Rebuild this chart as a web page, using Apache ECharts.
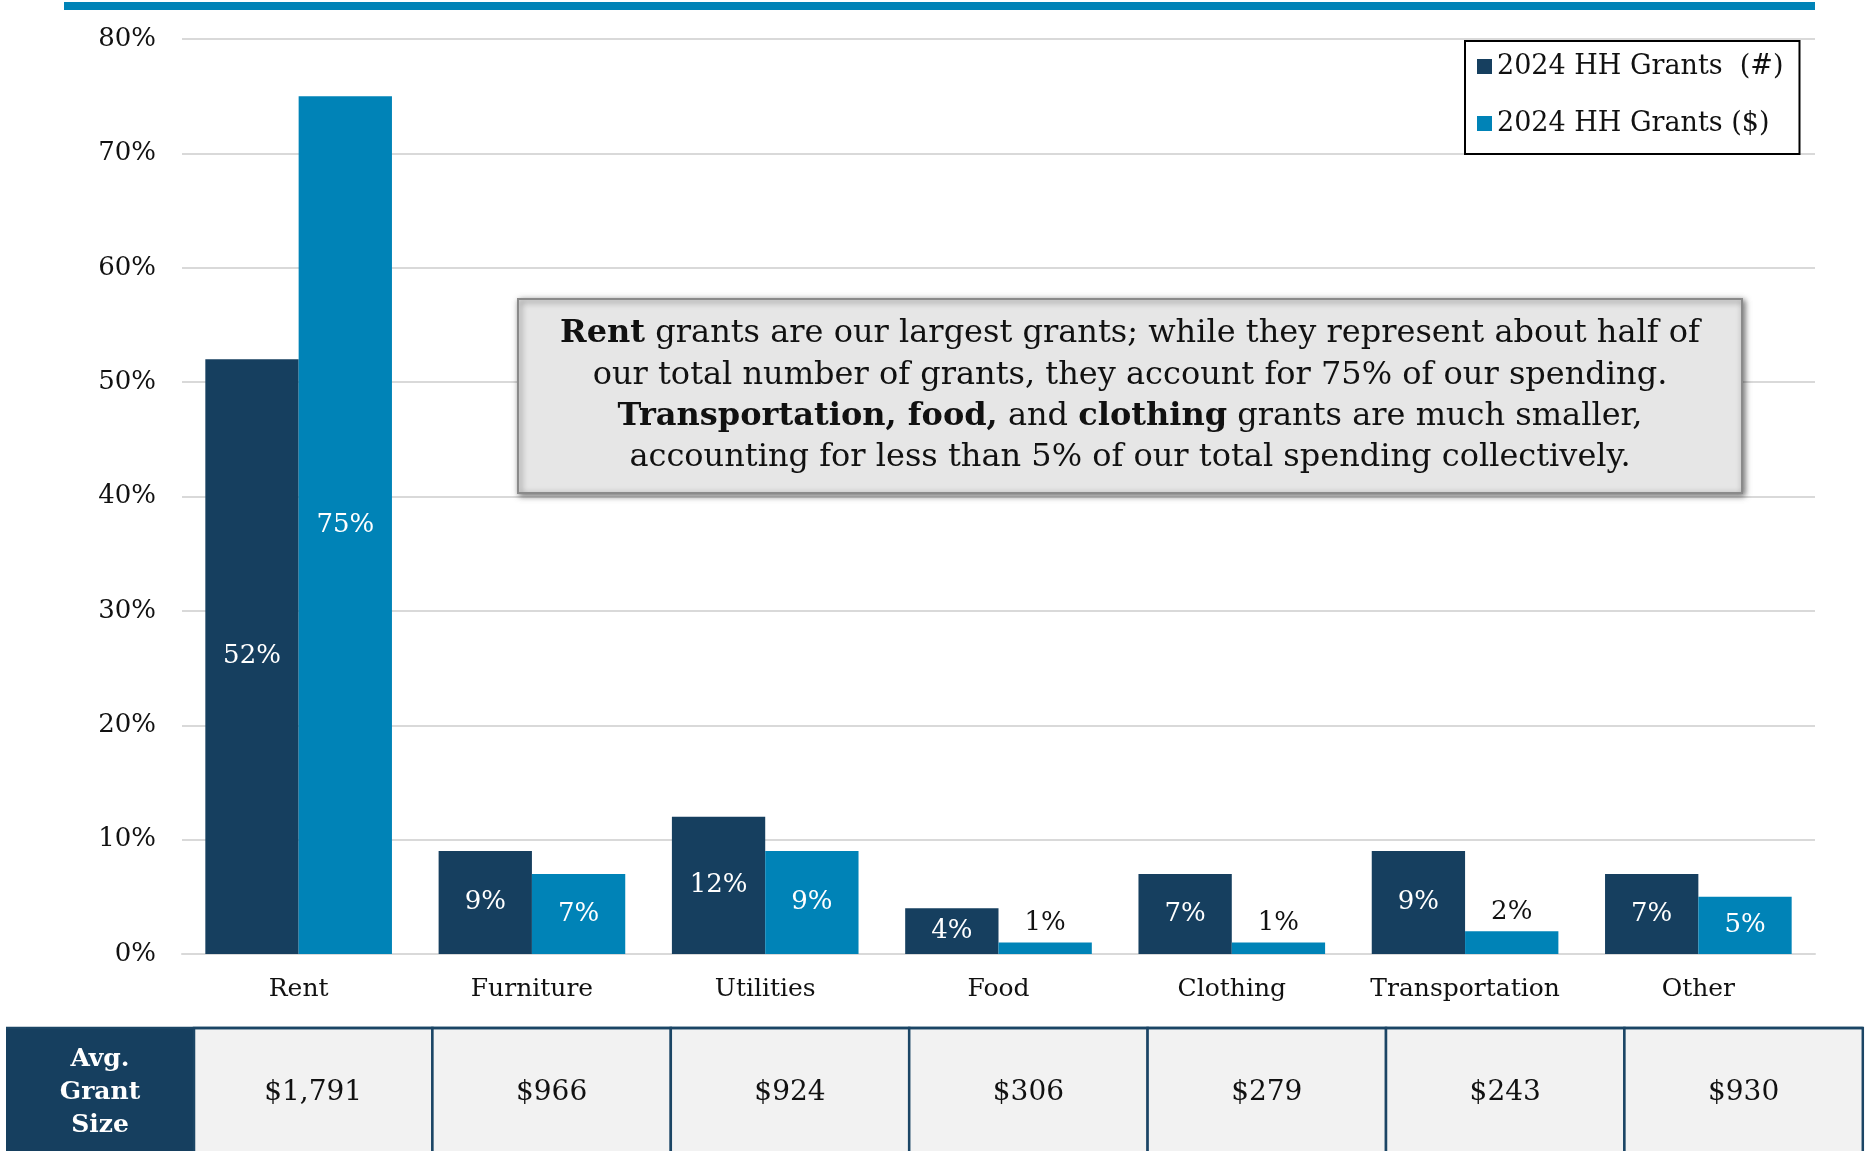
<!DOCTYPE html>
<html>
<head>
<meta charset="utf-8">
<script src="https://cdn.jsdelivr.net/npm/echarts@6/dist/echarts.min.js"></script>
<style>
  html, body { margin: 0; padding: 0; background: #fff; }
  #main { width: 1870px; height: 1151px; }
</style>
</head>
<body>
<div id="main"></div>
<script>
var categories = ['Rent', 'Furniture', 'Utilities', 'Food', 'Clothing', 'Transportation', 'Other'];
var grantsCount = [52, 9, 12, 4, 7, 9, 7];   // 2024 HH Grants (#), % of total
var grantsSpend = [75, 7, 9, 1, 1, 2, 5];    // 2024 HH Grants ($), % of total
var avgGrant = ['$1,791', '$966', '$924', '$306', '$279', '$243', '$930'];
var yTicks = [0, 10, 20, 30, 40, 50, 60, 70, 80];

var FONT = "'DejaVu Serif', serif";
var DARK = '#163f5f';
var LIGHT = '#0083b7';

// small values get a black label above the bar
function labelled(vals) {
  return vals.map(function (v) {
    if (v < 3) {
      return { value: v, label: { position: 'top', color: '#111', distance: 6 } };
    }
    return v;
  });
}

var myChart = echarts.init(document.getElementById('main'));

// table under the chart
var tableTop = 1028, headL = 6, headR = 194, cellW = 238.4;
var tableG = [];
tableG.push({ type: 'rect', shape: { x: headL, y: tableTop, width: headR - headL, height: 140 },
  style: { fill: DARK }, z: 10 });
tableG.push({ type: 'text', x: (headL + headR) / 2, y: 1092,
  style: { text: 'Avg.\nGrant\nSize', fill: '#fff', font: 'bold 25px ' + FONT, lineHeight: 33,
    align: 'center', verticalAlign: 'middle' }, z: 11 });
avgGrant.forEach(function (s, i) {
  var x = headR + i * cellW;
  tableG.push({ type: 'rect', shape: { x: x, y: tableTop, width: cellW, height: 140 },
    style: { fill: '#f2f2f2', stroke: '#1b4565', lineWidth: 2.5 }, z: 10 });
  tableG.push({ type: 'text', x: x + cellW / 2, y: 1093,
    style: { text: s, fill: '#111', font: '28px ' + FONT, align: 'center', verticalAlign: 'middle' }, z: 11 });
});
tableG.push({ type: 'line', shape: { x1: headL, y1: tableTop, x2: headR + 7 * cellW, y2: tableTop },
  style: { stroke: '#1b4565', lineWidth: 2.5 }, z: 12 });

// annotation box
var noteLines = [
  '{b|Rent} grants are our largest grants; while they represent about half of',
  'our total number of grants, they account for 75% of our spending.',
  '{b|Transportation, food,} and {b|clothing} grants are much smaller,',
  'accounting for less than 5% of our total spending collectively.'
];
var noteG = [{
  type: 'rect', shape: { x: 518, y: 299, width: 1224, height: 194 },
  style: { fill: '#e6e6e6', stroke: '#8a8a8a', lineWidth: 2,
    shadowBlur: 6, shadowColor: 'rgba(0,0,0,0.55)', shadowOffsetX: 2, shadowOffsetY: 2 }, z: 20
}];
noteLines.forEach(function (t, i) {
  noteG.push({ type: 'text', x: 1130, y: 334 + i * 41.3, z: 21,
    style: { text: t, fill: '#111', font: '32px ' + FONT, align: 'center', verticalAlign: 'middle',
      rich: { b: { fontWeight: 'bold', fontSize: 32, fontFamily: FONT, fill: '#111' } } } });
});

myChart.setOption({
  backgroundColor: '#fff',
  textStyle: { fontFamily: FONT },
  animation: false,
  grid: { left: 182, right: 55, top: 39, bottom: 197 },
  legend: {
    orient: 'vertical', left: 1465, top: 41,
    padding: [12, 16, 17, 12], itemGap: 30,
    itemWidth: 15, itemHeight: 15, icon: 'rect',
    borderColor: '#000', borderWidth: 2,
    textStyle: { fontSize: 27, color: '#111', fontFamily: FONT }
  },
  xAxis: {
    type: 'category', data: categories,
    axisLine: { lineStyle: { color: '#d9d9d9', width: 2 } },
    axisTick: { show: false },
    axisLabel: { interval: 0, fontSize: 25, color: '#111', margin: 23, fontFamily: FONT }
  },
  yAxis: {
    type: 'value', min: yTicks[0], max: yTicks[yTicks.length - 1], interval: 10,
    axisLine: { show: false }, axisTick: { show: false },
    splitLine: { lineStyle: { color: '#d9d9d9', width: 2 } },
    axisLabel: { formatter: '{value}%', fontSize: 26, color: '#111', margin: 26, fontFamily: FONT }
  },
  series: [
    {
      name: '2024 HH Grants  (#)', type: 'bar', data: labelled(grantsCount),
      itemStyle: { color: DARK }, barGap: '0%', barCategoryGap: '20%',
      label: { show: true, position: 'inside', color: '#fff', fontSize: 26, formatter: '{c}%', fontFamily: FONT }
    },
    {
      name: '2024 HH Grants ($)', type: 'bar', data: labelled(grantsSpend),
      itemStyle: { color: LIGHT }, barGap: '0%', barCategoryGap: '20%',
      label: { show: true, position: 'inside', color: '#fff', fontSize: 26, formatter: '{c}%', fontFamily: FONT }
    }
  ],
  graphic: [
    { type: 'rect', shape: { x: 64, y: 2, width: 1751, height: 8 }, style: { fill: LIGHT } }
  ].concat(noteG, tableG)
});

window.addEventListener('resize', function () {
  myChart.resize();
});
</script>
</body>
</html>
